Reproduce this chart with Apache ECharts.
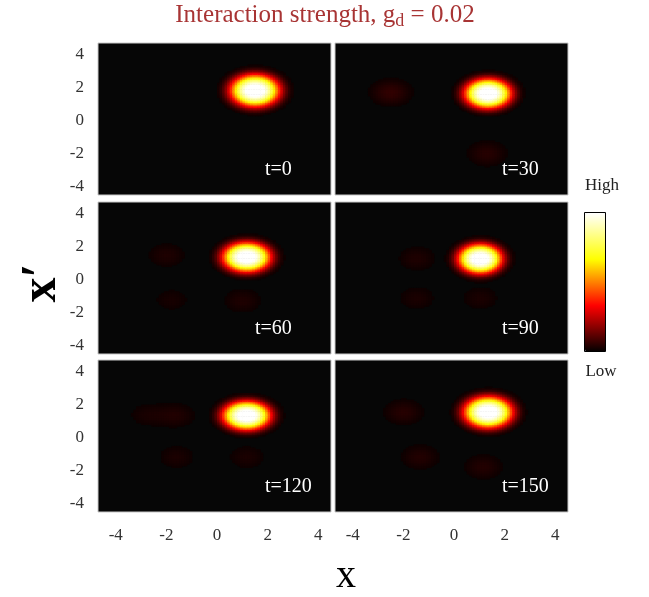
<!DOCTYPE html>
<html>
<head>
<meta charset="utf-8">
<script src="https://cdn.jsdelivr.net/npm/echarts@6/dist/echarts.min.js"></script>
<style>
  html, body { margin: 0; padding: 0; background: #ffffff; }
  #chart { width: 649px; height: 597px; }
</style>
</head>
<body>
<div id="chart"></div>
<script>
// Snapshot labels, one per panel (row-major: left column then right column)
const timeLabels = ['t=0', 't=30', 't=60', 't=90', 't=120', 't=150'];
const tickValues = [-4, -2, 0, 2, 4];

// Main wave packet in each snapshot: centre, widths and peak height
const peakX      = [1.50, 1.34, 1.17, 1.03, 1.17, 1.35];
const peakY      = [1.85, 1.67, 1.39, 1.29, 1.37, 1.57];
const peakSigmaX = [0.76, 0.72, 0.74, 0.68, 0.74, 0.75];
const peakSigmaY = [0.76, 0.70, 0.70, 0.70, 0.68, 0.74];
const peakHeight = [1.05, 1.05, 1.05, 1.05, 1.05, 1.05];
const PROFILE_EXP = 1.5; // flat-topped packet profile

// Faint satellite lobes in each snapshot
const ghostX      = [[], [-2.5, 1.3], [-2.0, 1.0, -1.8], [-1.47, -1.47, 1.03], [-1.6, -1.6, 1.17, -2.8], [-2.0, -1.34, 1.15]];
const ghostY      = [[], [1.73, -1.97], [1.5, -1.25, -1.2], [1.3, -1.1, -1.1], [1.37, -1.16, -1.16, 1.4], [1.57, -1.16, -1.75]];
const ghostHeight = [[], [0.065, 0.05], [0.04, 0.04, 0.03], [0.04, 0.035, 0.035], [0.04, 0.035, 0.035, 0.03], [0.05, 0.045, 0.045]];
const ghostSigma = 0.55;

// Axis ranges and sampling step of the density grid
const X_RANGE = [-4.7, 4.5];
const Y_RANGE = [-4.5, 4.7];
const STEP = 0.1;

// Panel layout
const COL_LEFT = [98, 335];
const ROW_TOP = [43, 202, 360];
const PANEL_W = 233;
const PANEL_H = 152;

function lobe(x, y, cx, cy, sx, sy, h, p) {
  const dx = (x - cx) / sx, dy = (y - cy) / sy;
  return h * Math.exp(-0.5 * Math.pow(dx * dx + dy * dy, p));
}

function buildCells(i) {
  const cells = [];
  const nx = Math.round((X_RANGE[1] - X_RANGE[0]) / STEP);
  const ny = Math.round((Y_RANGE[1] - Y_RANGE[0]) / STEP);
  for (let a = 0; a < nx; a++) {
    const x = X_RANGE[0] + (a + 0.5) * STEP;
    for (let b = 0; b < ny; b++) {
      const y = Y_RANGE[0] + (b + 0.5) * STEP;
      let v = lobe(x, y, peakX[i], peakY[i], peakSigmaX[i], peakSigmaY[i], peakHeight[i], PROFILE_EXP);
      for (let k = 0; k < ghostX[i].length; k++) {
        v += lobe(x, y, ghostX[i][k], ghostY[i][k], ghostSigma, ghostSigma, ghostHeight[i][k], 1);
      }
      if (v > 0.018) cells.push([x, y, Math.min(v, 1)]);
    }
  }
  return cells;
}

const grids = [], xAxes = [], yAxes = [], series = [], graphics = [];
for (let i = 0; i < 6; i++) {
  const row = Math.floor(i / 2), col = i % 2;
  const left = COL_LEFT[col], top = ROW_TOP[row];
  grids.push({
    left: left, top: top, width: PANEL_W, height: PANEL_H,
    show: true, backgroundColor: '#060606', borderColor: '#c8c8c8', borderWidth: 1
  });
  xAxes.push({
    type: 'value', gridIndex: i, min: X_RANGE[0], max: X_RANGE[1],
    axisLine: { show: false }, axisTick: { show: false }, splitLine: { show: false },
    axisLabel: {
      show: row === 2, customValues: tickValues, margin: 15,
      fontFamily: 'Liberation Serif', fontSize: 17, color: '#333'
    }
  });
  yAxes.push({
    type: 'value', gridIndex: i, min: Y_RANGE[0], max: Y_RANGE[1],
    axisLine: { show: false }, axisTick: { show: false }, splitLine: { show: false },
    axisLabel: {
      show: col === 0, customValues: tickValues, margin: 14,
      fontFamily: 'Liberation Serif', fontSize: 17, color: '#333'
    }
  });
  series.push({
    type: 'custom', xAxisIndex: i, yAxisIndex: i,
    dimensions: ['x', 'y', 'density'],
    encode: { x: 0, y: 1 },
    data: buildCells(i),
    clip: true,
    silent: true,
    renderItem: function (params, api) {
      const x = api.value(0), y = api.value(1);
      const p0 = api.coord([x - STEP / 2, y + STEP / 2]);
      const p1 = api.coord([x + STEP / 2, y - STEP / 2]);
      return {
        type: 'rect',
        shape: { x: p0[0], y: p0[1], width: p1[0] - p0[0] + 0.6, height: p1[1] - p0[1] + 0.6 },
        style: { fill: api.visual('color') }
      };
    }
  });
  graphics.push({
    type: 'text', z: 100,
    style: {
      text: timeLabels[i], x: left + (i === 2 ? 157 : 167), y: top + PANEL_H - 25,
      textVerticalAlign: 'middle', fill: '#ffffff',
      font: '20px "Liberation Serif"'
    }
  });
}

// Title with subscript
graphics.push({
  type: 'text', z: 100,
  style: {
    x: 325, y: 0, textAlign: 'center', textVerticalAlign: 'top',
    text: '{a|Interaction strength, g}{b|d}{a| = 0.02}',
    rich: {
      a: { fontFamily: 'Liberation Serif', fontSize: 25, fill: '#a83434' },
      b: { fontFamily: 'Liberation Serif', fontSize: 18, fill: '#a83434', padding: [12, 0, 0, 0] }
    }
  }
});
// Axis names
graphics.push({
  type: 'text', z: 100, rotation: Math.PI / 2, x: 42, y: 283,
  style: { text: 'x\u2032', textAlign: 'center', textVerticalAlign: 'middle', fill: '#000', font: 'bold 50px "Liberation Serif"' }
});
graphics.push({
  type: 'text', z: 100,
  style: { text: 'x', x: 346, y: 576, textAlign: 'center', textVerticalAlign: 'middle', fill: '#000', font: '40px "Liberation Serif"' }
});
// Colour bar labels and frame
graphics.push({
  type: 'text', z: 100,
  style: { text: 'High', x: 602, y: 186, textAlign: 'center', textVerticalAlign: 'middle', fill: '#222', font: '17px "Liberation Serif"' }
});
graphics.push({
  type: 'text', z: 100,
  style: { text: 'Low', x: 601, y: 372, textAlign: 'center', textVerticalAlign: 'middle', fill: '#222', font: '17px "Liberation Serif"' }
});
graphics.push({
  type: 'rect', z: 100,
  shape: { x: 584.5, y: 212.5, width: 21, height: 139 },
  style: { fill: null, stroke: '#000', lineWidth: 1 }
});

const chart = echarts.init(document.getElementById('chart'), null, { renderer: 'canvas' });
chart.setOption({
  animation: false,
  backgroundColor: '#ffffff',
  grid: grids,
  xAxis: xAxes,
  yAxis: yAxes,
  visualMap: {
    type: 'continuous', min: 0, max: 1, dimension: 2,
    seriesIndex: [0, 1, 2, 3, 4, 5],
    calculable: false, hoverLink: false, realtime: false,
    orient: 'vertical', left: 585, top: 213, padding: 0,
    itemWidth: 21, itemHeight: 139,
    // black -> red -> yellow -> white ("hot" palette)
    inRange: { color: ['#000000', '#ff0000', '#ffff00', '#ffffff'] }
  },
  series: series,
  graphic: graphics
});
</script>
</body>
</html>
